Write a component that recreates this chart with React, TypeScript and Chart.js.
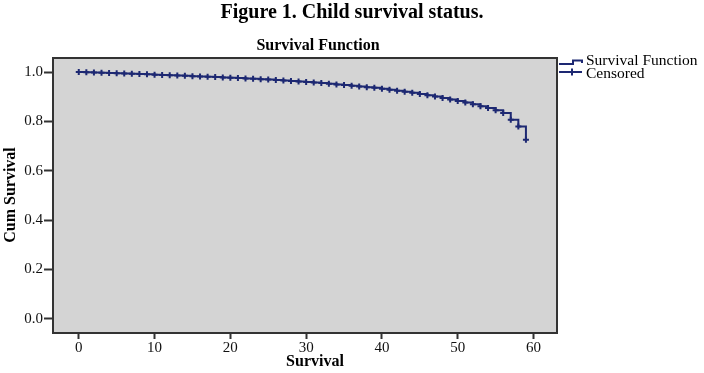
import React, { useEffect, useRef } from "react";
import { Chart, registerables } from "chart.js";
Chart.register(...registerables);

const figureTitle = "Figure 1. Child survival status.";
const chartTitle = "Survival Function";
const xTitle = "Survival";
const yTitle = "Cum Survival";
const legendLabels = ["Survival Function", "Censored"];

const months = [
  0, 1, 2, 3, 4, 5, 6, 7, 8, 9, 10, 11, 12, 13, 14, 15, 16, 17, 18, 19, 20, 21, 22, 23, 24, 25, 26, 27, 28, 29,
  30, 31, 32, 33, 34, 35, 36, 37, 38, 39, 40, 41, 42, 43, 44, 45, 46, 47, 48, 49, 50, 51, 52, 53, 54, 55, 56, 57, 58, 59,
];
const survival = [
  1.0, 0.999, 0.998, 0.997, 0.996, 0.995, 0.994, 0.993, 0.992, 0.991, 0.989, 0.988, 0.987, 0.986, 0.985, 0.983,
  0.982, 0.981, 0.98, 0.978, 0.977, 0.976, 0.974, 0.973, 0.971, 0.97, 0.968, 0.966, 0.964, 0.962, 0.96, 0.958,
  0.956, 0.953, 0.95, 0.948, 0.945, 0.942, 0.939, 0.936, 0.932, 0.928, 0.924, 0.92, 0.916, 0.911, 0.906, 0.901,
  0.895, 0.889, 0.883, 0.877, 0.87, 0.862, 0.854, 0.845, 0.834, 0.807, 0.78, 0.726,
];
const censoredMonths = [
  0, 1, 2, 3, 4, 5, 6, 7, 8, 9, 10, 11, 12, 13, 14, 15, 16, 17, 18, 19, 20, 21, 22, 23, 24, 25, 26, 27, 28, 29,
  30, 31, 32, 33, 34, 35, 36, 37, 38, 39, 40, 41, 42, 43, 44, 45, 46, 47, 48, 49, 50, 51, 52, 53, 54, 55, 56, 57, 58, 59,
];
const xTicks = [0, 10, 20, 30, 40, 50, 60];
const yTicks = [0, 0.2, 0.4, 0.6, 0.8, 1.0];

const LINE = "#1d2872";
const BG = "#d4d4d4";
const FRAME = "#333333";
const SERIF = "'Liberation Serif', 'DejaVu Serif', serif";

const decor = {
  id: "decor",
  beforeDatasetsDraw(chart: any) {
    const { ctx, chartArea: a } = chart;
    ctx.save();
    ctx.fillStyle = BG;
    ctx.fillRect(a.left, a.top, a.right - a.left, a.bottom - a.top);
    ctx.restore();
  },
  afterDraw(chart: any) {
    const { ctx, chartArea: a } = chart;
    ctx.save();
    ctx.strokeStyle = FRAME;
    ctx.lineWidth = 2;
    ctx.strokeRect(a.left, a.top, a.right - a.left, a.bottom - a.top);

    ctx.fillStyle = "#000";
    ctx.textAlign = "center";
    ctx.textBaseline = "alphabetic";
    ctx.font = `bold 20px ${SERIF}`;
    ctx.fillText(figureTitle, 352, 18);
    ctx.font = `bold 16px ${SERIF}`;
    ctx.fillText(chartTitle, 318, 50);
    ctx.fillText(xTitle, 315, 366);
    ctx.save();
    ctx.translate(15, 195);
    ctx.rotate(-Math.PI / 2);
    ctx.fillText(yTitle, 0, 0);
    ctx.restore();

    // legend
    ctx.strokeStyle = LINE;
    ctx.lineWidth = 2;
    ctx.beginPath();
    ctx.moveTo(559, 64);
    ctx.lineTo(573, 64);
    ctx.lineTo(573, 60.5);
    ctx.lineTo(582, 60.5);
    ctx.lineTo(582, 63);
    ctx.stroke();
    ctx.beginPath();
    ctx.moveTo(559, 72);
    ctx.lineTo(582, 72);
    ctx.moveTo(572, 68.5);
    ctx.lineTo(572, 75.5);
    ctx.stroke();
    ctx.fillStyle = "#000";
    ctx.textAlign = "left";
    ctx.textBaseline = "middle";
    ctx.font = `15.5px ${SERIF}`;
    ctx.fillText(legendLabels[0], 586, 61);
    ctx.fillText(legendLabels[1], 586, 74);
    ctx.restore();
  },
};

export default function App() {
  const ref = useRef<HTMLCanvasElement>(null);
  useEffect(() => {
    if (!ref.current) return;
    const curve = months.map((m, i) => ({ x: m, y: survival[i] }));
    const cens = censoredMonths.map((m) => ({ x: m, y: survival[months.indexOf(m)] }));
    const chart = new Chart(ref.current, {
      type: "line",
      data: {
        datasets: [
          {
            label: legendLabels[0],
            data: curve,
            stepped: "before",
            borderColor: LINE,
            borderWidth: 2,
            pointRadius: 0,
            fill: false,
          },
          {
            label: legendLabels[1],
            data: cens,
            showLine: false,
            pointStyle: "cross",
            pointRadius: 3,
            borderWidth: 2,
            borderColor: LINE,
            backgroundColor: LINE,
          },
        ],
      },
      plugins: [decor],
      options: {
        animation: false,
        responsive: false,
        layout: { padding: { left: 0, right: 147, top: 58, bottom: 0 } },
        plugins: { legend: { display: false }, tooltip: { enabled: false }, title: { display: false } },
        scales: {
          x: {
            type: "linear",
            min: -3.4,
            max: 63.1,
            afterBuildTicks: (s: any) => {
              s.ticks = xTicks.map((v) => ({ value: v }));
            },
            afterFit: (s: any) => {
              s.height = 40;
            },
            ticks: {
              color: "#111",
              font: { family: SERIF, size: 15 },
              padding: 0,
              maxRotation: 0,
              autoSkip: false,
            },
            grid: { drawOnChartArea: false, drawTicks: true, tickLength: 6, tickColor: FRAME, tickWidth: 2 },
            border: { display: false },
          },
          y: {
            type: "linear",
            min: -0.057,
            max: 1.057,
            afterBuildTicks: (s: any) => {
              s.ticks = yTicks.map((v) => ({ value: v }));
            },
            afterFit: (s: any) => {
              s.width = 53;
            },
            ticks: {
              color: "#111",
              font: { family: SERIF, size: 15 },
              padding: 1,
              autoSkip: false,
              callback: (v: any) => Number(v).toFixed(1),
            },
            grid: { drawOnChartArea: false, drawTicks: true, tickLength: 9, tickColor: FRAME, tickWidth: 2 },
            border: { display: false },
          },
        },
      },
    });
    return () => chart.destroy();
  }, []);
  return (
    <div style={{ position: "absolute", left: 0, top: 0, width: 704, height: 373, background: "#fff" }}>
      <canvas ref={ref} width={704} height={373} style={{ display: "block", width: 704, height: 373 }} />
    </div>
  );
}
